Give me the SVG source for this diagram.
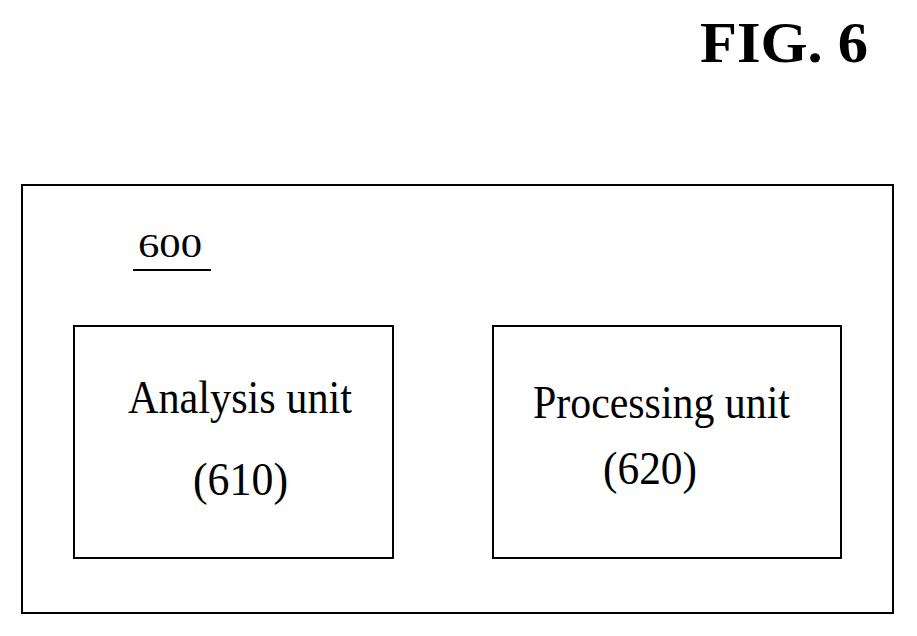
<svg xmlns="http://www.w3.org/2000/svg" width="917" height="636" viewBox="0 0 917 636">
<style>
.b{fill:none;stroke:#000;stroke-width:2}
.t{font-family:"Liberation Serif",serif;font-size:46px;fill:#000}
</style>
<rect width="917" height="636" fill="#fff"/>
<text x="700" y="62" font-family="Liberation Serif,serif" font-weight="bold" font-size="58" textLength="168" lengthAdjust="spacingAndGlyphs">FIG. 6</text>
<g id="n600">
<rect class="b" x="22" y="185" width="871" height="428"/>
<text x="138" y="257" font-family="Liberation Serif,serif" font-size="34" textLength="64" lengthAdjust="spacingAndGlyphs">600</text>
<line x1="133" y1="270" x2="211" y2="270" stroke="#000" stroke-width="2"/>
</g>
<g id="n610">
<rect class="b" x="74" y="326" width="319" height="232"/>
<text class="t" x="128" y="413" textLength="224" lengthAdjust="spacingAndGlyphs">Analysis unit</text>
<text class="t" x="193" y="495" textLength="95" lengthAdjust="spacingAndGlyphs">(610)</text>
</g>
<g id="n620">
<rect class="b" x="493" y="326" width="348" height="232"/>
<text class="t" x="533" y="418" textLength="257" lengthAdjust="spacingAndGlyphs">Processing unit</text>
<text class="t" x="603" y="484" textLength="94" lengthAdjust="spacingAndGlyphs">(620)</text>
</g>
<g id="connectors"/>
</svg>
